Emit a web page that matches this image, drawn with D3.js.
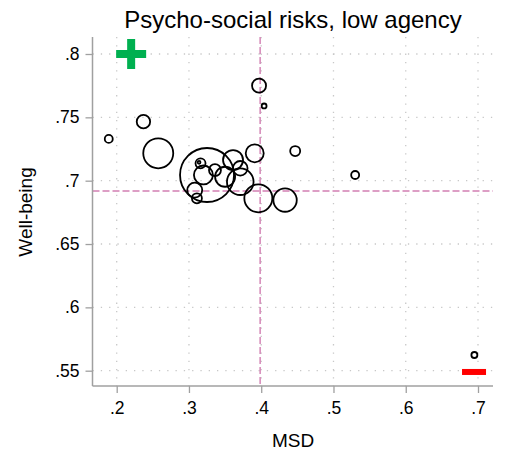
<!DOCTYPE html>
<html>
<head>
<meta charset="utf-8">
<script src="https://cdn.jsdelivr.net/npm/d3@7"></script>
<style>
body { margin: 0; background: #fff; }
text { font-family: "Liberation Sans", Arial, sans-serif; }
</style>
</head>
<body>
<svg id="chart" width="506" height="452"></svg>
<script>
// bubbles: msd, well-being, weight
var msd = [0.189, 0.237, 0.2575, 0.325, 0.316, 0.314, 0.320, 0.336, 0.350, 0.361, 0.371, 0.371,
	0.308, 0.311, 0.391, 0.397, 0.404, 0.396, 0.433, 0.447, 0.530, 0.695];
var wellbeing = [0.733, 0.7466, 0.7216, 0.7045, 0.7137, 0.7145, 0.7045, 0.7084, 0.7031, 0.7163, 0.7098, 0.6992,
	0.6926, 0.6861, 0.7216, 0.775, 0.759, 0.6861, 0.6847, 0.7234, 0.7045, 0.5624];
var weight = [16, 45, 225, 729, 25, 2, 90, 36, 100, 100, 53, 177,
	56, 25, 81, 49, 6, 196, 137, 25, 16, 9];

var xTicks = [0.2, 0.3, 0.4, 0.5, 0.6, 0.7];
var yTicks = [0.55, 0.6, 0.65, 0.7, 0.75, 0.8];
var refX = [0.3985];
var refY = [0.6919];
// + and - markers
var plusPos = [0.22, 0.8];
var minusPos = [0.6945, 0.549];

var svg = d3.select('#chart');
var plot = {left: 92.5, right: 493, top: 37, bottom: 386};

var x = d3.scaleLinear().domain([0.2, 0.7]).range([116.7, 478]);
var y = d3.scaleLinear().domain([0.55, 0.8]).range([370.7, 54]);
var r = d3.scaleSqrt().domain([0, 729]).range([0, 27]);

function fmt(v){
	return d3.format('')(+v.toFixed(2)).replace(/^0\./, '.');
}

// gridlines
svg.append('g').selectAll('line')
	.data(xTicks)
  .enter().append('line')
	.attr('x1', function(d){ return x(d); })
	.attr('x2', function(d){ return x(d); })
	.attr('y1', plot.top)
	.attr('y2', plot.bottom)
	.attr('stroke', '#c8c8c8')
	.attr('stroke-width', 1.3)
	.attr('stroke-dasharray', '1.3,7');

svg.append('g').selectAll('line')
	.data(yTicks)
  .enter().append('line')
	.attr('x1', plot.left)
	.attr('x2', plot.right)
	.attr('y1', function(d){ return y(d); })
	.attr('y2', function(d){ return y(d); })
	.attr('stroke', '#c8c8c8')
	.attr('stroke-width', 1.3)
	.attr('stroke-dasharray', '1.3,7');

// reference lines
svg.append('g').selectAll('line')
	.data(refX)
  .enter().append('line')
	.attr('x1', function(d){ return x(d); })
	.attr('x2', function(d){ return x(d); })
	.attr('y1', plot.top)
	.attr('y2', plot.bottom)
	.attr('stroke', '#d27fb2')
	.attr('stroke-width', 1.4)
	.attr('stroke-dasharray', '7,3');

svg.append('g').selectAll('line')
	.data(refY)
  .enter().append('line')
	.attr('x1', plot.left)
	.attr('x2', plot.right)
	.attr('y1', function(d){ return y(d); })
	.attr('y2', function(d){ return y(d); })
	.attr('stroke', '#d27fb2')
	.attr('stroke-width', 1.4)
	.attr('stroke-dasharray', '7,3');

// axes
var xAxis = d3.axisBottom(x).tickValues(xTicks).tickSize(7).tickPadding(9).tickFormat(fmt);
var yAxis = d3.axisLeft(y).tickValues(yTicks).tickSize(7).tickPadding(6).tickFormat(fmt);

var gx = svg.append('g').attr('transform', 'translate(0,' + plot.bottom + ')').call(xAxis);
var gy = svg.append('g').attr('transform', 'translate(' + plot.left + ',0)').call(yAxis);
[gx, gy].forEach(function(g){
	g.select('.domain').remove();
	g.selectAll('.tick line').attr('stroke', '#a0a0a0').attr('stroke-width', 1.3);
	g.selectAll('.tick text').attr('fill', '#000').style('font-size', '17.5px')
		.style('font-family', '"Liberation Sans", Arial, sans-serif');
});

svg.append('line')
	.attr('x1', plot.left).attr('x2', plot.left)
	.attr('y1', plot.top).attr('y2', plot.bottom)
	.attr('stroke', '#a0a0a0').attr('stroke-width', 1.5);
svg.append('line')
	.attr('x1', plot.left).attr('x2', plot.right)
	.attr('y1', plot.bottom).attr('y2', plot.bottom)
	.attr('stroke', '#a0a0a0').attr('stroke-width', 1.5);

// bubbles
svg.append('g').selectAll('circle')
	.data(msd)
  .enter().append('circle')
	.attr('cx', function(d){ return x(d); })
	.attr('cy', function(d, i){ return y(wellbeing[i]); })
	.attr('r', function(d, i){ return r(weight[i]); })
	.attr('fill', 'none')
	.attr('stroke', 'black')
	.attr('stroke-width', 1.8);

// plus sign
var px = x(plusPos[0]), py = y(plusPos[1]);
svg.append('rect').attr('x', px - 15).attr('y', py - 4).attr('width', 30).attr('height', 8).attr('fill', '#00b050');
svg.append('rect').attr('x', px - 4).attr('y', py - 15).attr('width', 8).attr('height', 30).attr('fill', '#00b050');

// minus sign
svg.append('rect')
	.attr('x', x(minusPos[0]) - 12).attr('y', y(minusPos[1]) - 3)
	.attr('width', 24).attr('height', 6)
	.attr('fill', '#ff0000');

// titles
svg.append('text')
	.attr('x', 293).attr('y', 28)
	.attr('text-anchor', 'middle')
	.style('font-size', '24px')
	.text('Psycho-social risks, low agency');

svg.append('text')
	.attr('x', 293).attr('y', 447)
	.attr('text-anchor', 'middle')
	.style('font-size', '19px')
	.text('MSD');

svg.append('text')
	.attr('transform', 'translate(32,' + 212 + ') rotate(-90)')
	.attr('text-anchor', 'middle')
	.style('font-size', '19px')
	.text('Well-being');
</script>
</body>
</html>
